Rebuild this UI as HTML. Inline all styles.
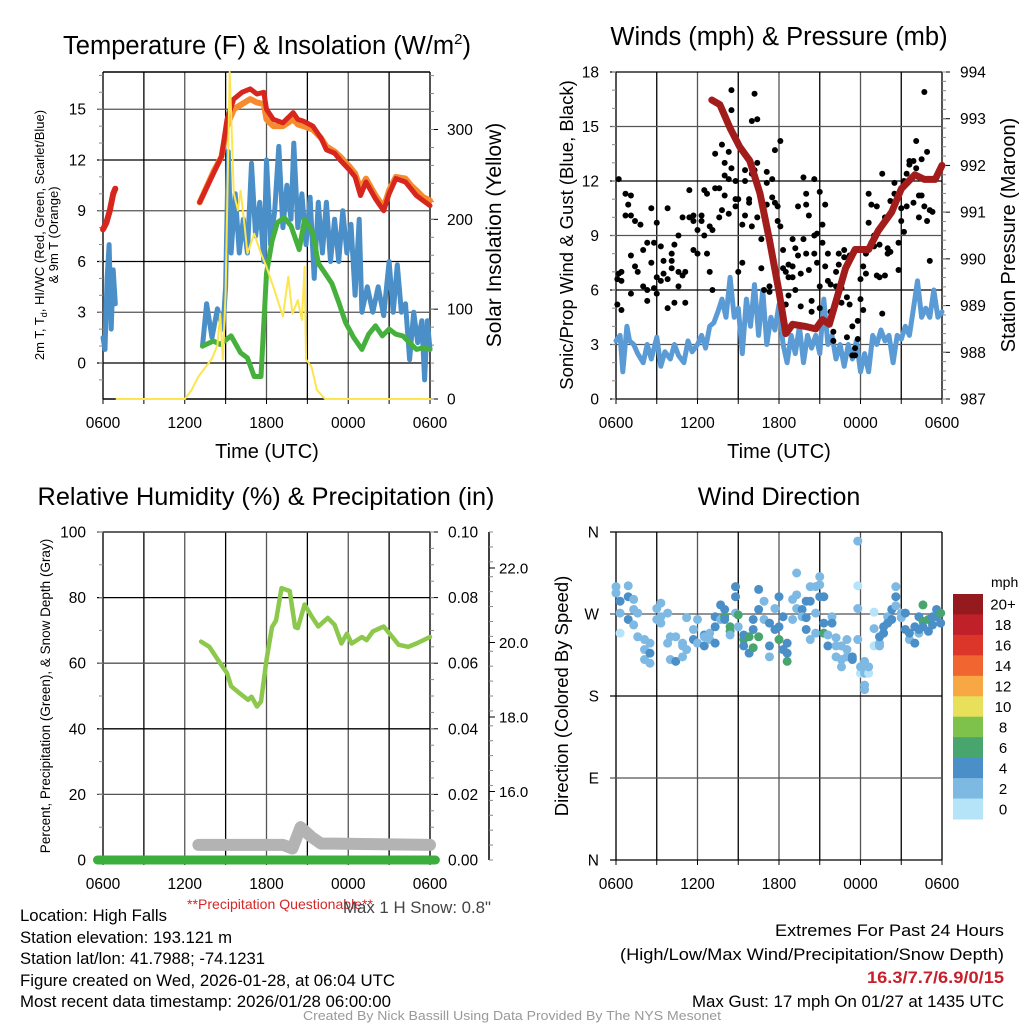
<!DOCTYPE html>
<html><head><meta charset="utf-8"><style>
html,body{margin:0;padding:0;background:#fff}
svg{display:block;font-family:"Liberation Sans",sans-serif}
</style></head><body>
<svg id="fig" width="1024" height="1024" viewBox="0 0 1024 1024" xmlns="http://www.w3.org/2000/svg">
<rect width="1024" height="1024" fill="#fff"/>
<g id="p1"></g>
<g id="p2"></g>
<g id="p3"></g>
<g id="p4"></g>

<text x="267" y="54" font-size="25.5" text-anchor="middle">Temperature (F) &amp; Insolation (W/m<tspan font-size="15" dy="-10">2</tspan><tspan dy="10">)</tspan></text>
<text x="779" y="45" font-size="25.5" text-anchor="middle">Winds (mph) &amp; Pressure (mb)</text>
<text x="266" y="505" font-size="25.3" text-anchor="middle">Relative Humidity (%) &amp; Precipitation (in)</text>
<text x="779" y="505" font-size="25" text-anchor="middle">Wind Direction</text>

<text x="267" y="458" font-size="20" text-anchor="middle">Time (UTC)</text>
<text x="779" y="458" font-size="20" text-anchor="middle">Time (UTC)</text>

<text transform="translate(44,235) rotate(-90)" font-size="13" text-anchor="middle">2m T, T<tspan font-size="9" dy="3">d</tspan><tspan dy="-3">, HI/WC (Red, Green, Scarlet/Blue)</tspan></text>
<text transform="translate(58,235) rotate(-90)" font-size="13" text-anchor="middle">&amp; 9m T (Orange)</text>
<text transform="translate(501,235) rotate(-90)" font-size="21" text-anchor="middle">Solar Insolation (Yellow)</text>
<text transform="translate(573,235) rotate(-90)" font-size="18.5" text-anchor="middle">Sonic/Prop Wind &amp; Gust (Blue, Black)</text>
<text transform="translate(1015,235) rotate(-90)" font-size="20" text-anchor="middle">Station Pressure (Maroon)</text>
<text transform="translate(50,696) rotate(-90)" font-size="13.5" text-anchor="middle">Percent, Precipitation (Green), &amp; Snow Depth (Gray)</text>
<text transform="translate(568,696) rotate(-90)" font-size="18.5" text-anchor="middle">Direction (Colored By Speed)</text>

<text x="187" y="909" font-size="14" fill="#d62728" textLength="186" lengthAdjust="spacingAndGlyphs">**Precipitation Questionable**</text>
<text x="343" y="913" font-size="17" fill="#444" textLength="148" lengthAdjust="spacingAndGlyphs">Max 1 H Snow: 0.8"</text>

<g font-size="17">
<text x="20" y="921" textLength="147" lengthAdjust="spacingAndGlyphs">Location: High Falls</text>
<text x="20" y="943" textLength="212" lengthAdjust="spacingAndGlyphs">Station elevation: 193.121 m</text>
<text x="20" y="964" textLength="245" lengthAdjust="spacingAndGlyphs">Station lat/lon: 41.7988; -74.1231</text>
<text x="20" y="986" textLength="375" lengthAdjust="spacingAndGlyphs">Figure created on Wed, 2026-01-28, at 06:04 UTC</text>
<text x="20" y="1007" textLength="371" lengthAdjust="spacingAndGlyphs">Most recent data timestamp: 2026/01/28 06:00:00</text>
</g>
<g font-size="17">
<text x="775" y="936" textLength="229" lengthAdjust="spacingAndGlyphs">Extremes For Past 24 Hours</text>
<text x="620" y="960" textLength="384" lengthAdjust="spacingAndGlyphs">(High/Low/Max Wind/Precipitation/Snow Depth)</text>
<text x="867" y="983" fill="#c8202a" font-weight="bold" textLength="137" lengthAdjust="spacingAndGlyphs">16.3/7.7/6.9/0/15</text>
<text x="692" y="1007" textLength="312" lengthAdjust="spacingAndGlyphs">Max Gust: 17 mph On 01/27 at 1435 UTC</text>
</g>
<text x="303" y="1020" font-size="13" fill="#999" textLength="418" lengthAdjust="spacingAndGlyphs">Created By Nick Bassill Using Data Provided By The NYS Mesonet</text>
</svg>
<script>
// ---------- DATA ----------
const timeTicks = ["0600","1200","1800","0000","0600"];
// Panel 1 : temperature
const tempT1 = [0,0.25,0.5,0.75,0.9];
const tempV1 = [7.9,8.3,9.0,10.0,10.3];
const tempT2 = [7.1,8.1,8.7,9.1,9.6,10.2,10.8,11.3,11.8,12.0,12.5,13.2,13.96,14.3,14.7,15.4,16.0,16.4,17.0,17.4,18.1,18.5,18.9,19.3,20.0,20.6,21.0,21.5,22.2,22.6,23.0,23.5,24];
const tempV2 = [9.5,11.2,12.2,14.4,15.6,16.0,16.2,15.9,16.0,15.0,14.4,14.2,14.8,14.4,14.3,14.0,13.3,12.6,12.4,12.0,11.4,11.0,9.9,10.7,9.7,9.0,10.0,10.9,10.7,10.3,9.9,9.6,9.3];
const temp9mV2 = [9.5,11.3,12.2,14.0,15.0,15.3,15.6,15.4,15.3,14.4,14.0,14.0,14.4,14.1,14.0,13.8,13.3,12.8,12.5,12.2,11.6,11.2,10.3,10.9,9.9,9.2,10.2,11.0,10.9,10.5,10.2,9.8,9.6];
const dewT = [7.3,8.1,8.6,9.4,10.1,10.6,11.1,11.6,12.0,12.4,12.8,13.3,13.8,14.4,14.8,15.4,15.8,16.3,16.8,17.3,17.8,18.4,19.0,19.5,20.0,20.5,21.0,21.5,22.0,22.5,23.0,23.5,24];
const dewV = [1.0,1.3,1.1,1.6,0.6,0.3,-0.8,-0.8,5.3,7.2,8.3,8.6,8.1,6.7,8.5,7.7,5.9,5.3,4.7,3.6,2.4,1.5,0.8,1.7,2.2,1.6,2.0,1.7,1.6,1.2,0.8,0.9,0.8];
const chillT1 = [0,0.15,0.3,0.45,0.6,0.75,0.9];
const chillV1 = [1.5,0.8,5.0,7.0,2.0,5.5,3.5];
const chillT2 = [7.3,7.6,8.0,8.4,8.8,9.0,9.2,9.4,9.7,10.0,10.3,10.6,10.9,11.2,11.5,11.8,12.0,12.3,12.6,12.9,13.2,13.5,13.8,14.0,14.3,14.6,14.9,15.2,15.5,15.8,16.1,16.4,16.7,17.0,17.3,17.6,17.9,18.2,18.5,18.8,19.0,19.4,19.8,20.2,20.6,21.0,21.3,21.6,21.9,22.2,22.5,22.8,23.1,23.4,23.6,23.8,24];
const chillV2 = [1.0,3.5,1.5,3.2,2.0,4.5,12.5,6.5,10.0,6.5,8.5,6.5,11.8,7.5,9.5,6.0,12.0,7.0,9.0,12.8,8.0,10.5,8.5,13.0,8.0,10.0,7.0,9.8,5.0,9.5,6.5,9.5,6.0,8.5,6.0,9.0,6.5,8.2,4.0,8.5,3.0,4.5,3.0,4.5,2.8,6.0,3.0,5.8,3.0,3.5,0.2,3.0,1.2,2.5,-1.0,2.5,0.8];
const solarT = [1.0,6.0,6.5,7.0,7.5,8.0,8.4,8.6,8.8,9.0,9.3,9.6,9.9,10.1,10.4,10.6,11.1,11.6,12.0,12.5,13.2,13.6,13.9,14.3,14.6,14.8,14.9,15.3,15.7,16.3,24];
const solarV = [0,0,10,25,35,45,60,95,44,118,364,229,210,232,192,162,184,162,147,125,92,136,95,110,88,147,44,36,10,0,0];
// Panel 2 : winds & pressure
const windT = [0,0.3,0.5,0.8,1.0,1.3,1.6,2.0,2.3,2.6,3.0,3.3,3.6,4.0,4.3,4.6,5.0,5.3,5.6,6.0,6.3,6.6,6.9,7.2,7.5,7.8,8.1,8.4,8.7,9.0,9.3,9.6,9.9,10.2,10.5,10.8,11.1,11.4,11.7,12.0,12.3,12.6,12.9,13.2,13.5,13.8,14.1,14.4,14.7,15.0,15.3,15.6,15.9,16.2,16.5,16.8,17.1,17.4,17.7,18.0,18.3,18.6,18.9,19.2,19.5,19.8,20.1,20.4,20.7,21.0,21.3,21.6,21.9,22.2,22.5,22.8,23.1,23.4,23.7,24];
const windV = [3.2,3.5,1.5,4.0,3.2,3.0,2.5,2.0,3.0,2.2,3.4,1.8,2.6,2.2,3.0,2.4,2.0,3.2,2.6,3.0,3.5,2.8,4.0,4.2,4.8,5.5,4.5,6.7,4.5,5.0,2.5,5.5,4.0,6.3,3.5,6.0,3.0,4.5,3.8,5.2,3.0,2.0,3.5,2.5,4.0,2.0,3.5,2.8,3.5,2.5,5.5,3.0,3.5,2.2,3.0,1.8,3.0,2.2,3.2,1.5,2.5,1.5,3.5,3.0,3.8,3.2,3.5,2.0,3.5,3.3,4.0,3.5,5.0,6.5,4.5,5.0,4.5,6.0,4.5,4.8];
const gustT = [0.1,0.1,0.2,0.2,0.4,0.4,0.4,0.7,0.7,0.9,1.1,1.1,1.1,1.1,1.4,1.4,1.6,1.8,2.0,2.0,2.3,2.3,2.3,2.6,2.6,2.8,2.8,3.0,3.0,3.0,3.3,3.3,3.5,3.5,3.8,3.8,3.8,4.1,4.1,4.1,4.3,4.3,4.6,4.6,4.6,4.9,4.9,5.1,5.1,5.4,5.4,5.7,5.7,5.7,6.0,6.0,6.3,6.3,6.5,6.5,6.7,6.7,6.9,6.9,7.1,7.1,7.3,7.3,7.6,7.6,7.8,7.8,8.0,8.0,8.0,8.3,8.3,8.3,8.5,8.5,8.5,8.8,8.8,8.8,9.0,9.0,9.3,9.3,9.5,9.5,9.5,9.8,9.8,9.8,10.0,10.0,10.0,10.2,10.2,10.4,10.4,10.4,10.7,10.7,10.9,11.1,11.1,11.1,11.3,11.3,11.5,11.5,11.7,11.7,11.9,11.9,12.1,12.1,12.3,12.3,12.5,12.5,12.7,12.7,12.7,13.0,13.0,13.0,13.2,13.2,13.4,13.4,13.6,13.6,13.8,13.8,14.0,14.0,14.0,14.2,14.2,14.4,14.4,14.6,14.6,14.6,14.8,14.8,15.0,15.0,15.0,15.2,15.2,15.4,15.4,15.6,15.6,15.8,15.8,16.0,16.0,16.2,16.2,16.4,16.4,16.6,16.6,16.8,16.8,17.0,17.0,17.2,17.2,17.4,17.4,17.6,17.6,17.8,17.8,18.0,18.0,18.2,18.2,18.4,18.4,18.6,18.6,18.8,18.8,19.0,19.0,19.2,19.2,19.4,19.4,19.6,19.6,19.8,19.8,20.0,20.0,20.2,20.2,20.5,20.5,20.8,20.8,21.0,21.0,21.2,21.2,21.4,21.4,21.6,21.6,21.9,21.9,22.1,22.1,22.3,22.3,22.5,22.5,22.7,22.7,22.9,22.9,23.1,23.1,23.3];
const gustV = [6.6,5.2,12.1,6.9,6.5,4.9,7.0,11.3,10.1,10.7,11.2,5.8,7.9,10.1,9.8,7.3,7.0,9.6,6.2,8.2,6.0,8.6,5.4,10.5,7.5,8.6,6.1,9.7,6.7,5.8,8.4,6.5,7.6,6.9,6.6,10.5,5.0,7.6,8.0,7.2,5.3,8.5,6.2,9.0,7.0,6.8,10.0,5.3,7.0,10.0,11.5,8.2,10.1,9.8,9.3,8.0,9.8,10.1,9.0,11.5,11.3,8.0,7.0,9.5,6.0,9.3,13.5,11.6,10.0,11.6,14.0,10.4,12.3,13.0,11.2,13.6,10.2,12.1,17.0,15.9,12.7,11.0,10.6,12.0,11.0,7.0,7.5,9.6,12.6,10.1,12.0,11.0,10.8,13.2,15.3,9.5,12.4,16.8,12.6,15.4,13.0,10.0,8.8,7.2,6.0,11.9,12.5,10.7,6.2,5.9,11.1,12.1,10.8,13.7,10.6,9.8,14.2,9.5,8.2,7.2,7.0,5.2,7.4,5.7,6.7,7.3,8.8,6.7,8.3,6.0,7.9,10.6,6.9,5.1,12.2,8.8,10.7,11.3,8.0,10.1,7.1,5.4,4.8,12.1,8.0,9.0,9.1,7.5,6.2,11.4,5.0,8.6,9.6,10.7,7.3,8.0,6.5,6.3,4.8,3.7,3.2,7.0,6.2,7.4,8.0,6.1,5.3,7.8,8.2,5.6,3.4,7.9,5.2,2.4,4.0,2.4,2.8,4.3,3.3,6.6,5.5,7.3,4.9,8.0,6.9,11.3,9.7,10.7,8.6,8.4,9.0,6.8,10.6,8.5,6.7,12.4,4.7,6.8,10.0,8.0,8.3,10.9,8.1,11.3,11.9,8.6,7.1,10.5,9.8,9.2,12.0,10.6,12.4,12.9,13.1,13.1,10.8,14.2,12.7,10.0,11.2,13.2,11.2,10.6,16.9,13.6,9.8,10.4,7.6,10.3];
const presT = [7.05,7.65,8.4,9.1,9.85,10.6,11.3,12.0,12.5,13.0,14.0,14.7,15.2,15.7,16.4,16.9,17.6,18.6,19.3,20.3,21.0,22.0,22.7,23.5,24];
const presV = [993.4,993.3,992.8,992.4,992.1,991.4,990.4,989.3,988.4,988.6,988.55,988.5,988.7,988.6,989.3,989.8,990.2,990.2,990.6,991.0,991.5,991.8,991.7,991.7,992.0];
// Panel 3 : RH, precip, snow
const rhT = [7.2,7.8,8.6,9.1,9.4,10.0,10.65,10.9,11.3,11.6,12.0,12.4,12.7,13.1,13.7,14.1,14.3,14.8,15.3,15.8,16.5,17.0,17.5,17.9,18.25,19.0,19.35,19.8,20.6,21.2,21.7,22.4,23.0,24];
const rhV = [66.6,65,60,57,53,50.9,48.8,49.8,46.8,48.3,61,71,73,82.9,82,71,70.7,77.9,74.3,71.2,73.8,71.7,66,69,66,68,67,69.7,71.2,68.2,65.6,65,66,68];
const precipT = [-0.4,24.4];
const precipV = [0,0];
const snowT = [7.0,13.2,13.6,13.9,14.5,15.3,16.0,17.0,24];
const snowV = [4.6,4.6,4.0,3.5,10.0,7.0,5.0,5.0,4.6];
// Panel 4 : wind direction
const dirT = [0,0,0.3,0.3,0.3,0.9,0.9,0.9,1.3,1.3,1.3,1.6,1.6,2.1,2.1,2.1,2.5,2.5,2.5,3.0,3.0,3.3,3.3,3.3,3.8,3.8,4.0,4.0,4.4,4.4,4.9,4.9,4.9,5.2,5.2,5.7,5.7,6.0,6.0,6.5,6.5,6.5,6.9,6.9,7.3,7.3,7.3,7.7,7.7,8.0,8.0,8.0,8.4,8.4,8.4,8.8,8.8,8.8,9.0,9.0,9.4,9.4,9.4,9.8,9.8,10.1,10.1,10.1,10.5,10.5,10.5,10.9,10.9,11.3,11.3,11.3,11.7,11.7,12.0,12.0,12.0,12.3,12.3,12.6,12.6,12.6,13.0,13.0,13.3,13.3,13.3,13.7,13.7,14.0,14.0,14.0,14.3,14.3,14.3,14.7,14.7,14.7,15.0,15.0,15.0,15.3,15.3,15.3,15.6,15.6,15.9,15.9,16.2,16.2,16.2,16.6,16.6,16.6,17.0,17.0,17.0,17.4,17.4,17.8,17.8,17.8,17.8,18.0,18.0,18.3,18.3,18.3,18.3,18.6,18.6,19.0,19.0,19.0,19.4,19.4,19.4,19.7,19.7,20.0,20.0,20.3,20.3,20.6,20.6,20.6,21.0,21.0,21.3,21.3,21.6,21.6,22.0,22.0,22.3,22.3,22.3,22.6,22.6,22.6,23.0,23.0,23.3,23.3,23.6,23.6,23.9,23.9];
const dirV = [293,300,284,271,249,301,289,264,286,275,258,271,245,242,231,220,238,216,227,276,264,282,267,260,271,238,245,220,245,218,238,223,235,266,231,253,242,264,238,247,235,245,249,242,238,256,267,280,264,267,275,264,256,251,247,289,300,271,269,256,242,247,235,245,227,233,253,264,245,275,297,284,264,235,223,260,276,253,242,256,289,267,231,218,227,238,286,264,315,276,291,275,267,266,253,284,284,242,300,271,249,300,311,302,289,289,249,260,235,247,267,260,235,244,223,235,212,220,242,231,223,223,220,276,242,350,301,205,212,218,205,192,187,205,212,272,254,235,238,245,235,256,249,267,260,275,264,300,289,279,266,271,253,271,242,249,238,256,267,249,253,280,262,256,264,251,258,267,267,275,271,260];
const dirS = [3,3,4,2,1,3,4,4,3,3,3,3,3,3,3,2,3,3,4,3,3,3,3,3,3,3,3,2,3,4,3,3,3,3,3,3,4,3,3,4,4,3,3,3,4,4,4,4,3,6,4,4,6,6,3,4,4,3,6,3,6,4,4,6,4,6,4,4,6,4,4,3,3,4,3,4,3,4,6,4,4,4,4,6,4,4,3,3,3,3,3,4,3,4,4,4,4,3,3,3,3,3,3,3,4,4,6,4,4,3,3,4,3,3,3,3,3,3,3,3,3,4,4,3,2,3,1,1,3,2,3,2,3,1,3,1,3,1,2,4,3,4,4,3,4,4,4,3,4,3,3,3,4,4,3,4,4,4,4,3,4,6,6,4,6,4,4,4,4,4,6,4,4,4];
const cbLabels = ["20+","18","16","14","12","10","8","6","4","2","0"];
const cbColors = ["#941a1d","#c0202a","#dc352a","#f06530","#f7a844","#e8e05a","#7ec24c","#48a56e","#4a8fc8","#7db9e3","#b5e3f7"];

// ---------- DRAWING ----------
const NS = "http://www.w3.org/2000/svg";
function mk(parent, tag, attrs){const e=document.createElementNS(NS,tag);for(const k in attrs)e.setAttribute(k,attrs[k]);parent.appendChild(e);return e;}
function xs(P,t){return P.x0+(P.x1-P.x0)*t/24;}
function ys(P,v,lo,hi){return P.y1-(P.y1-P.y0)*(v-lo)/(hi-lo);}

function frame(g,P){
  for(let i=0;i<=8;i++){const x=xs(P,i*3);
    const l=mk(g,"line",{x1:x,x2:x,y1:P.y0,y2:P.y1,stroke:i%2?"#000":"#555","stroke-width":(i==0||i==8)?2:1.3});
    
    
    const tk=mk(g,"line",{x1:x,x2:x,y1:P.y1,y2:P.y1+5,stroke:"#000","stroke-width":1});
    
    
  }
  for(let i=0;i<timeTicks.length;i++){
    const t=mk(g,"text",{x:xs(P,i*6),y:P.y1+29,"font-size":15.5,"text-anchor":"middle"});t.textContent=timeTicks[i];
    
    
  }
}
function hgrid(g,P,vals,lo,hi,labels,side,lx,anchor){
  vals.forEach((v,i)=>{const y=ys(P,v,lo,hi);
    if(side==="L"){const l=mk(g,"line",{x1:P.x0-6,x2:P.x1,y1:y,y2:y,stroke:i%2?"#555":"#000","stroke-width":1.3});
      
      }
    else{const l=mk(g,"line",{x1:P.x1,x2:P.x1+8,y1:y,y2:y,stroke:"#000","stroke-width":1});
      
      }
    const t=mk(g,"text",{x:lx,y:y+5.5,"font-size":15.5,"text-anchor":anchor});t.textContent=labels[i];
    
    
  });
}
function minor(g,x,y0,y1,n,dir){for(let i=0;i<=n;i++){const y=y0+(y1-y0)*i/n;mk(g,"line",{x1:x,x2:x+dir*4,y1:y,y2:y,stroke:"#888","stroke-width":1});}}
function path(g,P,T,V,lo,hi,color,w,name){
  let d="";for(let i=0;i<T.length;i++)d+=(i?"L":"M")+xs(P,T[i]).toFixed(1)+","+ys(P,V[i],lo,hi).toFixed(1);
  const p=mk(g,"path",{d:d,fill:"none",stroke:color,"stroke-width":w,"stroke-linejoin":"round","stroke-linecap":"round"});
  
  
}

// Panel 1
(function(){
  const g=document.getElementById("p1");const P={x0:103,x1:430,y0:72,y1:399};
  const lo=-2.13,hi=17.2,rlo=0,rhi=364;
  frame(g,P);
  mk(g,"line",{x1:P.x0,x2:P.x1,y1:P.y0,y2:P.y0,stroke:"#000","stroke-width":1.5});
  mk(g,"line",{x1:P.x0,x2:P.x1,y1:P.y1,y2:P.y1,stroke:"#000","stroke-width":1.5});
  hgrid(g,P,[0,3,6,9,12,15],lo,hi,["0","3","6","9","12","15"],"L",86,"end");
  hgrid(g,P,[0,100,200,300],rlo,rhi,["0","100","200","300"],"R",447,"start");
  minor(g,P.x0,ys(P,-1,lo,hi),ys(P,17,lo,hi),18,-1);
  minor(g,P.x1,ys(P,0,rlo,rhi),ys(P,360,rlo,rhi),18,1);
  path(g,P,tempT2,temp9mV2,lo,hi,"#f58a2e",6,"temp-9m-line");
  path(g,P,tempT1,tempV1,lo,hi,"#d7261e",6,"temp-2m-line-early");
  path(g,P,tempT2,tempV2,lo,hi,"#d7261e",5,"temp-2m-line");
  path(g,P,chillT1,chillV1,lo,hi,"#4a8fc8",5,"windchill-line-early");
  path(g,P,chillT2,chillV2,lo,hi,"#4a8fc8",5,"windchill-line");
  path(g,P,dewT,dewV,lo,hi,"#46b03c",5,"dewpoint-line");
  path(g,P,solarT,solarV,rlo,rhi,"#fde54f",2,"solar-line");
})();

// Panel 2
(function(){
  const g=document.getElementById("p2");const P={x0:616,x1:942,y0:72,y1:399};
  const lo=0,hi=18,rlo=987,rhi=994;
  frame(g,P);
  hgrid(g,P,[0,3,6,9,12,15,18],lo,hi,["0","3","6","9","12","15","18"],"L",599,"end");
  hgrid(g,P,[987,988,989,990,991,992,993,994],rlo,rhi,["987","988","989","990","991","992","993","994"],"R",960,"start");
  minor(g,P.x0,P.y0,P.y1,18,-1);
  minor(g,P.x1,P.y0,P.y1,35,1);
  path(g,P,windT,windV,lo,hi,"#5b9bd5",5,"wind-speed-line");
  for(let i=0;i<gustT.length;i++){
    const c=mk(g,"circle",{cx:xs(P,gustT[i]),cy:ys(P,gustV[i],lo,hi),r:3,fill:"#000"});
    
    
  }
  path(g,P,presT,presV,rlo,rhi,"#a31c1c",7,"pressure-line");
})();

// Panel 3
(function(){
  const g=document.getElementById("p3");const P={x0:103,x1:430,y0:532,y1:860};
  const lo=0,hi=100;
  frame(g,P);
  mk(g,"line",{x1:P.x0,x2:P.x1,y1:P.y0,y2:P.y0,stroke:"#000","stroke-width":1.5});
  hgrid(g,P,[0,20,40,60,80,100],lo,hi,["0","20","40","60","80","100"],"L",86,"end");
  hgrid(g,P,[0,20,40,60,80,100],lo,hi,["0.00","0.02","0.04","0.06","0.08","0.10"],"R",448,"start");
  minor(g,P.x0,P.y0,P.y1,10,-1);
  minor(g,P.x1,P.y0,P.y1,20,1);
  const ax=mk(g,"line",{x1:489,x2:489,y1:P.y0,y2:P.y1,stroke:"#000","stroke-width":1.5});
  
  
  minor(g,489,P.y0,P.y1,22,1);
  const snowTicks=["22.0","20.0","18.0","16.0"];
  snowTicks.forEach((s,i)=>{const y=568+i*74.5;
    mk(g,"line",{x1:489,x2:495,y1:y,y2:y,stroke:"#000","stroke-width":1});
    const t=mk(g,"text",{x:499,y:y+5.5,"font-size":15});t.textContent=s;
    
    
  });
  path(g,P,snowT,snowV,lo,hi,"#b3b3b3",12,"snow-depth-line");
  path(g,P,precipT,precipV,lo,hi,"#3cae3c",9,"precip-line");
  path(g,P,rhT,rhV,lo,hi,"#8cc84b",4.5,"rh-line");
})();

// Panel 4
(function(){
  const g=document.getElementById("p4");const P={x0:616,x1:942,y0:532,y1:860};
  const lo=0,hi=360;
  frame(g,P);
  hgrid(g,P,[0,90,180,270,360],lo,hi,["N","E","S","W","N"],"L",599,"end");
  for(let i=0;i<dirT.length;i++){
    const c=mk(g,"circle",{cx:xs(P,dirT[i]),cy:ys(P,dirV[i],lo,hi),r:4.5,fill:cbColors[10-Math.min(10,Math.floor(dirS[i]/2))]});
    
    
  }
  const cb=mk(g,"g",{});
  
  
  const bh=225/11;
  cbColors.forEach((c,i)=>{
    const r=mk(cb,"rect",{x:953,y:594+i*bh,width:30,height:bh+0.5,fill:c});
    
    
    const t=mk(cb,"text",{x:1003,y:594+i*bh+bh/2+5.5,"font-size":15,"text-anchor":"middle"});t.textContent=cbLabels[i];
    
    
  });
  const u=mk(cb,"text",{x:991,y:587,"font-size":14});u.textContent="mph";
  
  
})();
</script>
</body></html>
